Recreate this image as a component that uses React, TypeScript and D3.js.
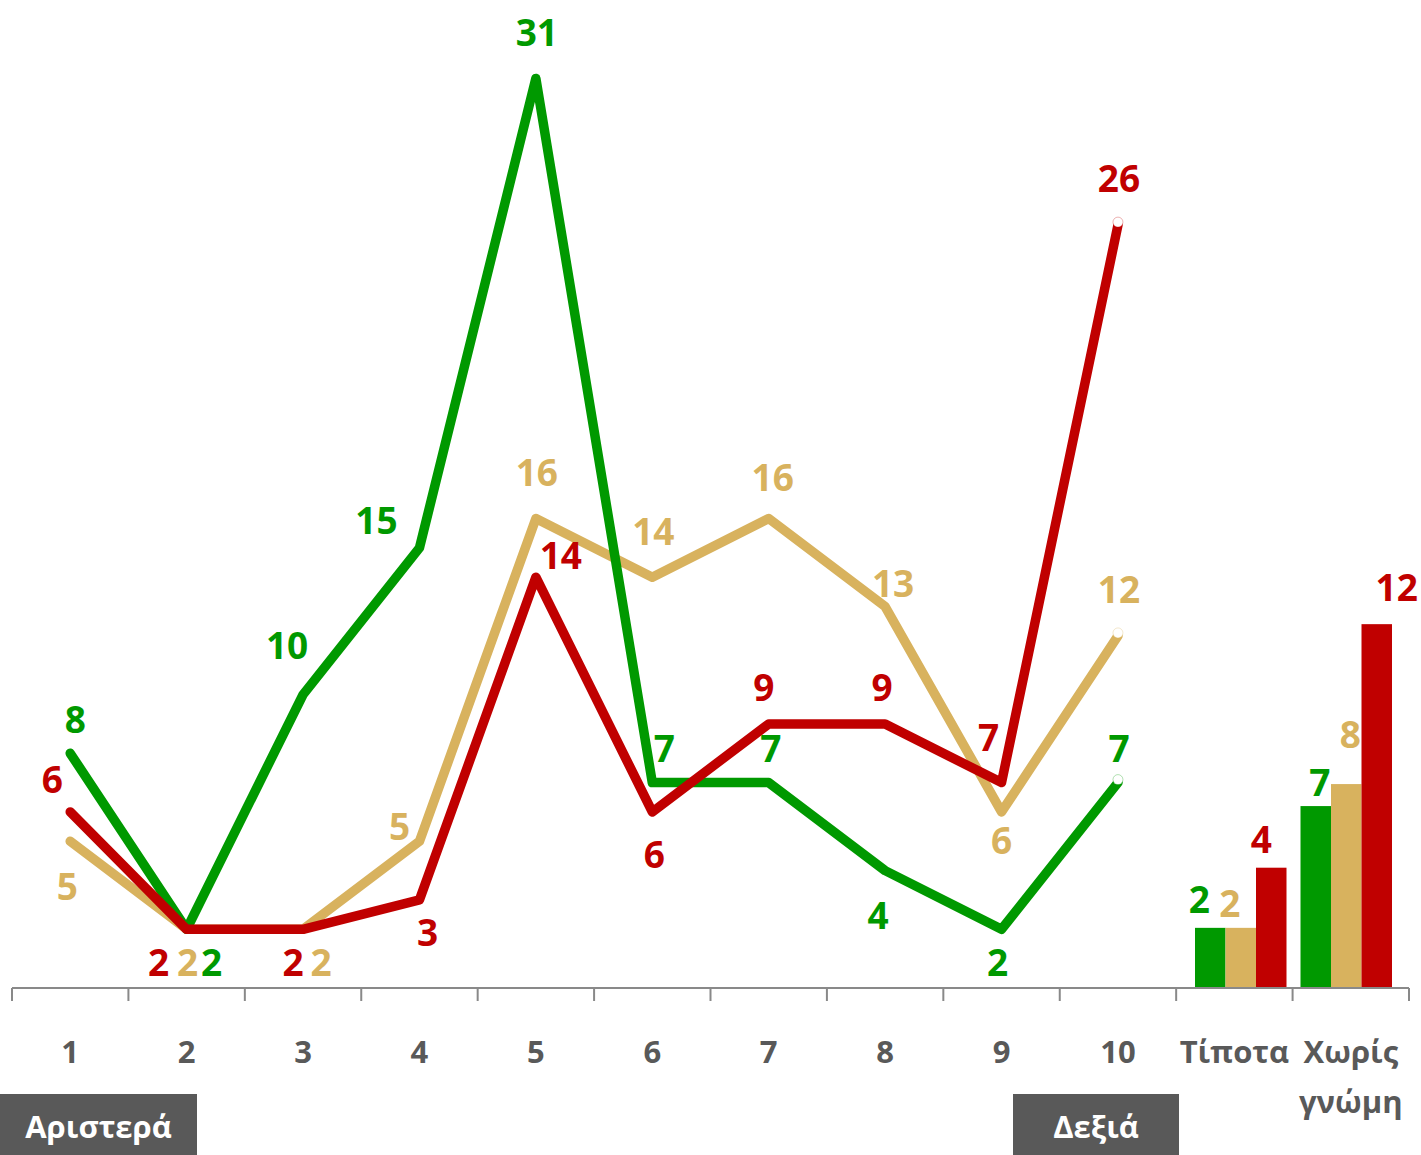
import React from "react";
import * as d3 from "d3";

const categories = ["1", "2", "3", "4", "5", "6", "7", "8", "9", "10", "Τίποτα", "Χωρίς γνώμη"];
const lineCategories = ["1", "2", "3", "4", "5", "6", "7", "8", "9", "10"];
const barCategories = ["Τίποτα", "Χωρίς γνώμη"];
const seriesNames = ["green", "tan", "red"];

const greenValues = [8, 2, 10, 15, 31, 7, 7, 4, 2, 7];
const tanValues = [5, 2, 2, 5, 16, 14, 16, 13, 6, 12];
const redValues = [6, 2, 2, 3, 14, 6, 9, 9, 7, 26];

// bar heights as drawn, and their printed labels
const greenBars = [2.05, 6.2];
const tanBars = [2.05, 6.95];
const redBars = [4.1, 12.4];
const greenBarLabels = ["2", "7"];
const tanBarLabels = ["2", "8"];
const redBarLabels = ["4", "12"];

// layout: label offsets (dx, dy) from each point
const greenOffsets = [[5, -34], [25, 33], [-16, -49], [-43, -27], [1, -46], [12, -34], [2, -34], [-7, 45], [-4, 33], [1, -34]];
const tanOffsets = [[-3, 45], [1, 33], [18, 33], [-20, -15], [1, -46], [1, -46], [4, -41], [8, -23], [0, 29], [1, -46]];
const redOffsets = [[-18, -32], [-28, 33], [-10, 33], [8, 33], [25, -22], [2, 43], [-5, -36], [-3, -36], [-13, -45], [1, -46]];
const barLabelOffsets = [
  [[-11, -28], [4, -23]],
  [[-11, -24], [4, -49]],
  [[-10, -28], [20, -36]],
];

const COLORS: Record<string, string> = { green: "#009900", tan: "#D8B25E", red: "#C00000" };
const FONT = "'Open Sans', 'DejaVu Sans', sans-serif";

export default function App() {
  const W = 1421, H = 1155;
  const x = d3.scaleBand<string>().domain(categories).range([12, 1409]).paddingInner(0).paddingOuter(0);
  const y = d3.scaleLinear().domain([0, 31]).range([988, 78.4]);
  const cx = (c: string) => (x(c) as number) + x.bandwidth() / 2;

  const xb = d3.scaleBand<string>().domain(barCategories).range([1188, 1399]);
  const xs = d3.scaleBand<string>().domain(seriesNames).range([7, 98.5]);

  const series = [
    { name: "tan", values: tanValues, offsets: tanOffsets },
    { name: "green", values: greenValues, offsets: greenOffsets },
    { name: "red", values: redValues, offsets: redOffsets },
  ];
  const line = d3.line<number>().x((_, i) => cx(lineCategories[i])).y((d) => y(d));

  const bars = [
    { name: "green", values: greenBars, labels: greenBarLabels, off: barLabelOffsets[0] },
    { name: "tan", values: tanBars, labels: tanBarLabels, off: barLabelOffsets[1] },
    { name: "red", values: redBars, labels: redBarLabels, off: barLabelOffsets[2] },
  ];

  const ticks = d3.range(categories.length + 1).map((i) => 12 + i * x.step());

  return (
    <svg width={W} height={H} style={{ position: "absolute", left: 0, top: 0, background: "#fff" }} fontFamily={FONT}>
      {/* bars */}
      {bars.map((s) =>
        s.values.map((v, j) => (
          <rect key={s.name + j}
            x={(xb(barCategories[j]) as number) + (xs(s.name) as number)}
            y={y(v)} width={xs.bandwidth()} height={y(0) - y(v)} fill={COLORS[s.name]} />
        ))
      )}
      {/* axis */}
      <line x1={12} x2={1409} y1={988} y2={988} stroke="#898989" strokeWidth={2} />
      {ticks.map((t, i) => (
        <line key={i} x1={t} x2={t} y1={988} y2={1001} stroke="#898989" strokeWidth={2} />
      ))}
      {/* lines */}
      {series.map((s) => (
        <path key={s.name} d={line(s.values) as string} fill="none" stroke={COLORS[s.name]}
          strokeWidth={9.5} strokeLinecap="round" strokeLinejoin="round" />
      ))}
      {series.map((s) => (
        <circle key={"m" + s.name} cx={cx("10")} cy={y(s.values[9]) - 3} r={5}
          fill="#fff" stroke={COLORS[s.name]} strokeOpacity={0.3} strokeWidth={1} />
      ))}
      {/* line labels */}
      {series.map((s) =>
        s.values.map((v, i) => (
          <text key={s.name + "l" + i} x={cx(lineCategories[i]) + s.offsets[i][0]} y={y(v) + s.offsets[i][1]}
            dy="0.36em" textAnchor="middle" fontSize={37} fontWeight={700} fill={COLORS[s.name]}>
            {v}
          </text>
        ))
      )}
      {/* bar labels */}
      {bars.map((s) =>
        s.values.map((v, j) => (
          <text key={s.name + "b" + j}
            x={(xb(barCategories[j]) as number) + (xs(s.name) as number) + xs.bandwidth() / 2 + s.off[j][0]}
            y={y(v) + s.off[j][1]} dy="0.36em" textAnchor="middle" fontSize={37} fontWeight={700} fill={COLORS[s.name]}>
            {s.labels[j]}
          </text>
        ))
      )}
      {/* category labels */}
      {categories.map((c) => {
        const parts = c === "Χωρίς γνώμη" ? ["Χωρίς", "γνώμη"] : [c];
        return parts.map((p, k) => (
          <text key={c + k} x={cx(c)} y={1052 + k * 50} dy="0.36em" textAnchor="middle"
            fontSize={31} fontWeight={700} fill="#595959">
            {p}
          </text>
        ));
      })}
      {/* side boxes */}
      <rect x={0} y={1094} width={197} height={61} fill="#595959" />
      <text x={98.5} y={1127} dy="0.36em" textAnchor="middle" fontSize={31} fontWeight={700} fill="#fff">Αριστερά</text>
      <rect x={1013} y={1094} width={166} height={61} fill="#595959" />
      <text x={1096} y={1127} dy="0.36em" textAnchor="middle" fontSize={31} fontWeight={700} fill="#fff">Δεξιά</text>
    </svg>
  );
}
